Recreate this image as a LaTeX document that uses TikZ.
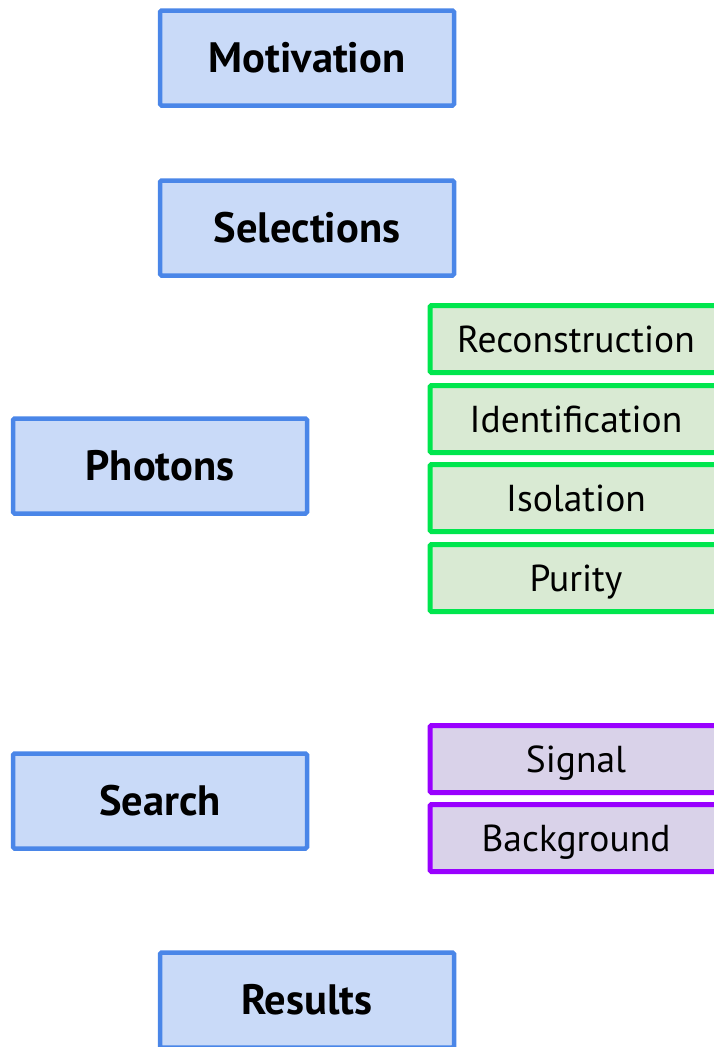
\documentclass[tikz,border=0pt]{standalone}
\usepackage{fontspec}
\setmainfont{PT Sans}

\definecolor{topicline}{HTML}{4A86E8}
\definecolor{topicfill}{HTML}{C9DAF8}
\definecolor{photline}{HTML}{00E64D}
\definecolor{photfill}{HTML}{D9EAD3}
\definecolor{srchline}{HTML}{9900FF}
\definecolor{srchfill}{HTML}{D9D2E9}

\begin{document}
\begin{tikzpicture}[
    x=1pt, y=-1pt,
    topic/.style={draw=topicline, fill=topicfill, line width=4.5pt,
        rounded corners=1.5pt, minimum width=294pt, minimum height=95pt,
        text height=29.5pt, text depth=0pt,
        font=\fontsize{42.5}{50}\selectfont\bfseries},
    part/.style={line width=5pt, rounded corners=1.5pt,
        minimum width=292pt, minimum height=67pt,
        text height=26pt, text depth=0pt,
        font=\fontsize{37.5}{44}\selectfont}
  ]
  \useasboundingbox (0,0) rectangle (714,1047);
  \clip (0,0) rectangle (714,1047);

  \node[topic] (motivation) at (307,58) {Motivation};
  \node[topic] (selections) at (307,228) {Selections};
  \node[topic] (photons) at (160,466) {Photons};
  \node[topic] (search) at (160,801) {Search};
  \node[topic] (results) at (307,1000) {Results};

  \begin{scope}[every node/.style={part, draw=photline, fill=photfill}]
    \node (reco) at (576,339) {Reconstruction};
    \node (ident) at (576,419) {Identification};
    \node (iso) at (576,498) {Isolation};
    \node (purity) at (576,578) {Purity};
  \end{scope}

  \begin{scope}[every node/.style={part, draw=srchline, fill=srchfill}]
    \node (signal) at (576,759) {Signal};
    \node (bkg) at (576,838) {Background};
  \end{scope}
\end{tikzpicture}
\end{document}
